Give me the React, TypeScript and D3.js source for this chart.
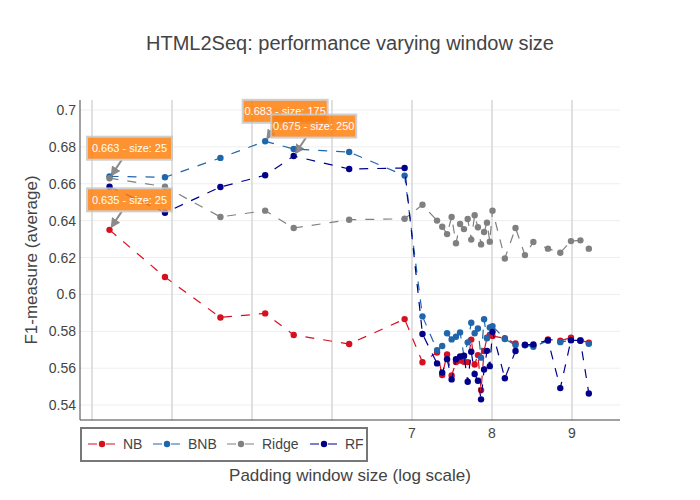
import React from 'react';
import * as d3 from 'd3';

// padding window sizes (x is plotted as ln(size))
const sizes = [
  25, 50, 100, 175, 250, 500, 1000, 1250, 1500, 1600, 1700, 1800, 1900, 2000, 2100, 2200, 2300,
  2400, 2500, 2600, 2700, 2800, 2900, 3000, 3500, 4000, 4500, 5000, 6000, 7000, 8000, 9000, 10000,
];

const nbValues = [
  0.635, 0.6094, 0.5875, 0.5897, 0.578, 0.5731, 0.5866, 0.5632, 0.5685, 0.5563, 0.5674, 0.556,
  0.5633, 0.5641, 0.5635, 0.5633, 0.5755, 0.562, 0.5671, 0.5481, 0.5693, 0.5765, 0.578, 0.5774,
  0.5762, 0.5734, 0.5725, 0.5724, 0.5756, 0.5749, 0.5765, 0.5752, 0.5738,
];
const bnbValues = [
  0.664, 0.6635, 0.674, 0.683, 0.6788, 0.6772, 0.6644, 0.5881, 0.5698, 0.572, 0.5789, 0.5756,
  0.577, 0.5794, 0.5666, 0.574, 0.5846, 0.5789, 0.5815, 0.5657, 0.5865, 0.5762, 0.5821, 0.5828,
  0.5758, 0.5725, 0.5724, 0.5716, 0.5749, 0.5741, 0.5752, 0.575, 0.5732,
];
const ridgeValues = [
  0.663, 0.6584, 0.642, 0.6454, 0.636, 0.6405, 0.641, 0.6486, 0.64, 0.6367, 0.6327, 0.642,
  0.6277, 0.6382, 0.6354, 0.6409, 0.6297, 0.6429, 0.6364, 0.6271, 0.6338, 0.6389, 0.6286, 0.6454,
  0.6195, 0.636, 0.6213, 0.6284, 0.6248, 0.6226, 0.6289, 0.6293, 0.6248,
];
const rfValues = [
  0.6584, 0.6443, 0.6582, 0.6646, 0.675, 0.668, 0.6685, 0.5785, 0.5626, 0.5576, 0.5649, 0.5539,
  0.5648, 0.5663, 0.5668, 0.5526, 0.5689, 0.5568, 0.5532, 0.5431, 0.5593, 0.5694, 0.5611, 0.5797,
  0.5545, 0.5693, 0.5727, 0.5729, 0.5752, 0.5492, 0.5752, 0.5749, 0.5463,
];

const seriesNames = ['NB', 'BNB', 'Ridge', 'RF'];
const seriesValues = [nbValues, bnbValues, ridgeValues, rfValues];
const seriesColors = ['#d61020', '#1f66ad', '#808080', '#00008b'];

// best point of each series: [series index, point index]
const annotated: [number, number][] = [[2, 0], [0, 0], [1, 3], [3, 4]];

const xTicks = [3, 4, 5, 6, 7, 8, 9];
const xTickLabels = ['3', '4', '5', '6', '7', '8', '9'];
const yTicks = [0.54, 0.56, 0.58, 0.6, 0.62, 0.64, 0.66, 0.68, 0.7];
const yTickLabels = ['0.54', '0.56', '0.58', '0.6', '0.62', '0.64', '0.66', '0.68', '0.7'];

const FONT = '"Liberation Sans", Arial, sans-serif';

export default function App() {
  const W = 700;
  const H = 500;
  const left = 80, right = 620, top = 100, bottom = 420;

  const x = d3.scaleLinear().domain([2.85, 9.6]).range([left, right]);
  const y = d3.scaleLinear().domain([0.5319, 0.7054]).range([bottom, top]);

  const line = d3.line<number>()
    .x((_, i) => x(Math.log(sizes[i])))
    .y(d => y(d));

  const boxW = 85, boxH = 23;
  const ax = 20, ay = -30;

  return (
    <div style={{ position: 'absolute', left: 0, top: 0, width: W, height: H, background: '#fff' }}>
      <svg width={W} height={H} style={{ fontFamily: FONT }}>
        <rect width={W} height={H} fill="#fff" />
        <text x={350} y={50} textAnchor="middle" fontSize={20} fill="#444">
          HTML2Seq: performance varying window size
        </text>

        {/* grid */}
        {yTicks.map(t => (
          <line key={'gy' + t} x1={left} x2={right} y1={y(t)} y2={y(t)} stroke="#eee" strokeWidth={1} />
        ))}
        {xTicks.map(t => (
          <line key={'gx' + t} x1={x(t)} x2={x(t)} y1={top} y2={bottom} stroke="#d9d9d9" strokeWidth={1.6} />
        ))}

        {/* axes */}
        <line x1={left} x2={right} y1={bottom} y2={bottom} stroke="#444" strokeWidth={1} />
        <line x1={left} x2={left} y1={top} y2={bottom} stroke="#444" strokeWidth={1} />
        {yTicks.map((t, i) => (
          <text key={'ly' + t} x={76} y={y(t) + 5} textAnchor="end" fontSize={14} fill="#444">
            {yTickLabels[i]}
          </text>
        ))}
        {xTicks.map((t, i) => (
          <text key={'lx' + t} x={x(t)} y={438} textAnchor="middle" fontSize={14} fill="#444">
            {xTickLabels[i]}
          </text>
        ))}
        <text x={350} y={481} textAnchor="middle" fontSize={17} fill="#444">
          Padding window size (log scale)
        </text>
        <text transform="translate(37,260) rotate(-90)" textAnchor="middle" fontSize={17} fill="#444">
          F1-measure (average)
        </text>

        {/* series */}
        {seriesValues.map((vals, s) => (
          <g key={seriesNames[s]}>
            <path d={line(vals) || ''} fill="none" stroke={seriesColors[s]} strokeWidth={1.2} strokeDasharray="9,9" />
            {vals.map((v, i) => (
              <circle key={i} cx={x(Math.log(sizes[i]))} cy={y(v)} r={3.2} fill={seriesColors[s]} />
            ))}
          </g>
        ))}

        {/* annotations */}
        <defs>
          <marker id="ahead" viewBox="0 0 10 10" refX={8} refY={5} markerWidth={5} markerHeight={5} orient="auto">
            <path d="M0,0 L10,5 L0,10 z" fill="#777" />
          </marker>
        </defs>
        {annotated.map(([s, i]) => {
          const px = x(Math.log(sizes[i]));
          const py = y(seriesValues[s][i]);
          const cx = px + ax, cy = py + ay;
          const dx = px - cx, dy = py - cy;
          const tEdge = Math.min(Math.abs((boxW / 2) / dx), Math.abs((boxH / 2) / dy));
          const len = Math.hypot(dx, dy);
          const tEnd = 1 - 4 / len;
          return (
            <g key={'a' + s} opacity={0.85}>
              <line
                x1={cx + dx * tEdge} y1={cy + dy * tEdge}
                x2={cx + dx * tEnd} y2={cy + dy * tEnd}
                stroke="#777" strokeWidth={2} markerEnd="url(#ahead)"
              />
              <rect x={cx - boxW / 2} y={cy - boxH / 2} width={boxW} height={boxH}
                fill="#ff7f0e" stroke="#c7c7c7" strokeWidth={2} />
              <text x={cx} y={cy + 4} textAnchor="middle" fontSize={11} fill="#fff">
                {`${seriesValues[s][i].toFixed(3)} - size: ${sizes[i]}`}
              </text>
            </g>
          );
        })}

        {/* legend */}
        <rect x={81} y={428} width={286} height={33} fill="#fff" stroke="#777" strokeWidth={2} />
        {seriesNames.map((n, s) => {
          const lx = [88, 153, 227, 310][s];
          return (
            <g key={'lg' + n}>
              <line x1={lx} x2={lx + 27} y1={444} y2={444} stroke={seriesColors[s]} strokeWidth={2}
                strokeOpacity={0.5} strokeDasharray="9,9" />
              <circle cx={lx + 14} cy={444} r={3.2} fill={seriesColors[s]} />
              <text x={lx + 35} y={449} fontSize={14} fill="#444">{n}</text>
            </g>
          );
        })}
      </svg>
    </div>
  );
}
